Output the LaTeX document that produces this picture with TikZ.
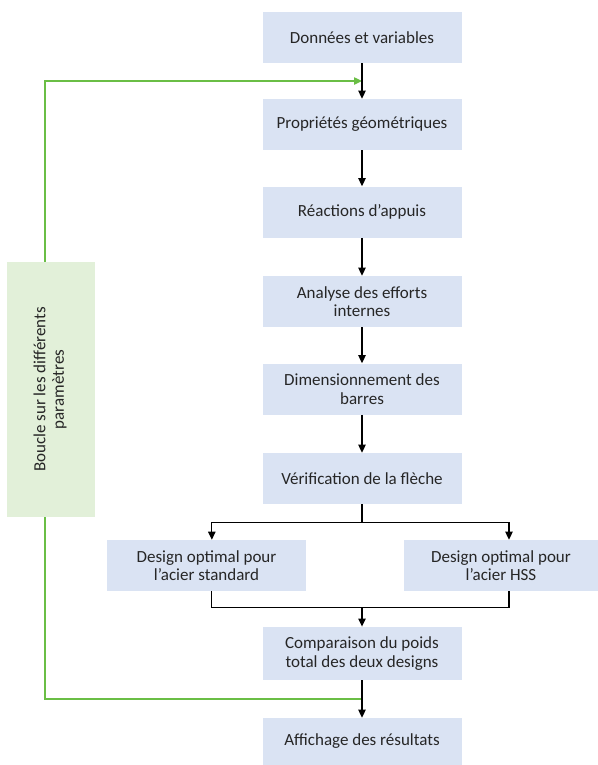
\documentclass[tikz,border=0pt]{standalone}
\usepackage{fontspec}
\setmainfont{Carlito}
\usepackage{graphicx}
\usetikzlibrary{arrows.meta,calc}

\begin{document}
\begin{tikzpicture}[x=0.75pt, y=-0.75pt,
  >={Triangle[width=5.5pt,length=6pt]},
  font=\fontsize{12.75}{13.8}\selectfont,
  stepbox/.style={fill=boxblue, text=black!85, minimum width=149.25pt,
    minimum height=38.25pt, align=center, inner sep=2pt},
  loopbox/.style={fill=loopfill, text=black!85, minimum width=66pt,
    minimum height=191pt, inner sep=2pt},
  flow/.style={line width=0.9pt},
  loopline/.style={draw=loopgreen, line width=1pt}]
  \definecolor{boxblue}{RGB}{218,227,243}
  \definecolor{loopfill}{RGB}{226,240,217}
  \definecolor{loopgreen}{RGB}{106,190,69}

  \useasboundingbox (0,0) rectangle (598,765);

  % Main column
  \foreach \n/\y/\txt in {d1/37.5/Données et variables,
      d2/124.5/Propriétés géométriques,
      d3/212/Réactions d’appuis,
      d4/301.5/Analyse des efforts\\internes,
      d5/389/Dimensionnement des\\barres,
      d6/478.5/Vérification de la flèche} {
    \node[stepbox] (\n) at (362,\y) {\txt};
  }

  % Two designs
  \node[stepbox] (dstd) at (206.5,565.5) {Design optimal pour\\l’acier standard};
  \node[stepbox, minimum width=145.5pt] (dhss) at (501,565.5) {Design optimal pour\\l’acier HSS};

  \node[stepbox, minimum height=40pt] (comp) at (362,653.5) {Comparaison du poids\\total des deux designs};
  \node[stepbox, minimum height=35.25pt] (aff) at (362,741.5) {Affichage des résultats};

  % Loop box
  \node[loopbox] (boucle) at (51,389.5)
    {\rotatebox{90}{\begin{tabular}{@{}c@{}}Boucle sur les différents\\paramètres\end{tabular}}};

  % Loop lines
  \coordinate (entry) at ($(d1.south)!0.5!(d2.north)$);
  \coordinate (exit) at ($(comp.south)!0.5!(aff.north)$);
  \draw[loopline, ->, loopgreen]
    ([xshift=-4.5pt]boucle.north) |- (entry);
  \draw[loopline] ([xshift=-4.5pt]boucle.south) |- (exit);

  % Arrows down the column
  \foreach \a/\b in {d1/d2, d2/d3, d3/d4, d4/d5, d5/d6, comp/aff} {
    \draw[flow, ->] (\a) -- (\b);
  }

  % Split and join
  \coordinate (split) at ($(d6.south)+(0,18)$);
  \coordinate (join) at ($(comp.north)+(0,-19)$);
  \draw[flow] (d6.south) -- (split);
  \draw[flow, ->] (split) -| ([xshift=4pt]dstd.north);
  \draw[flow, ->] (split) -| ([xshift=6pt]dhss.north);
  \draw[flow] ([xshift=4pt]dstd.south) |- (join) -| ([xshift=6pt]dhss.south);
  \draw[flow, ->] (join) -- (comp);
\end{tikzpicture}
\end{document}
